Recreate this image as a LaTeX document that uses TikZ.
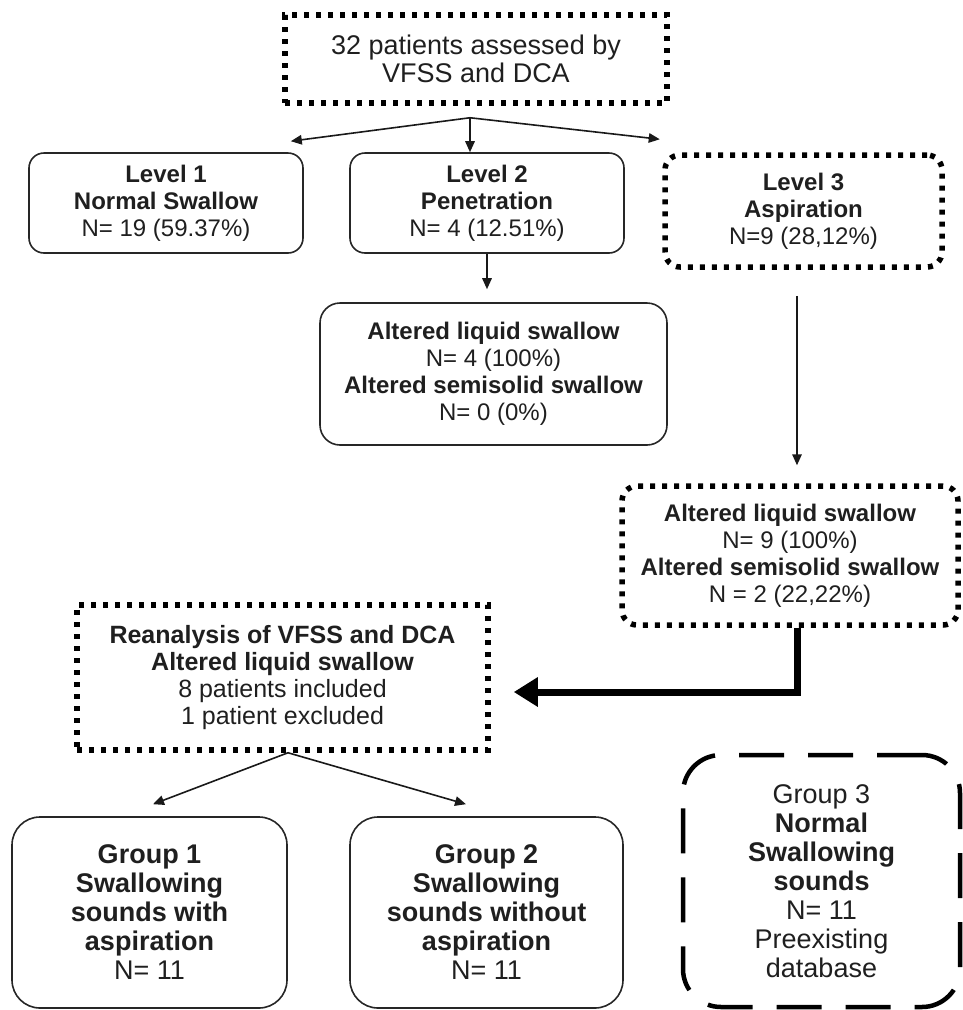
\documentclass[tikz,border=0pt]{standalone}
\usepackage{fontspec}
\setmainfont{Liberation Sans}
\usetikzlibrary{arrows.meta,calc}
\begin{document}
\begin{tikzpicture}[x=1pt,y=-1pt,
  every node/.style={inner sep=0pt, align=center, text=black!88},
  solidbox/.style={draw=black!85, line width=1.6pt, rounded corners=#1},
  solidbox/.default=15pt,
  dotbox/.style={draw=black, line width=5.5pt, dash pattern=on 5pt off 7pt, rounded corners=#1},
  dotbox/.default=0pt,
  dashbox/.style={draw=black, line width=4.5pt, dash pattern=on 45pt off 24pt, rounded corners=38pt},
  fa/.style={font=\fontsize{24}{27}\selectfont},
  fb/.style={font=\fontsize{27}{28}\selectfont},
  fr/.style={font=\fontsize{25}{27}\selectfont},
  fg/.style={font=\fontsize{27}{29}\selectfont},
  arr/.style={draw=black!90, line width=1.6pt, -{Triangle[length=11pt,width=9.5pt]}},
  bigarr/.style={draw=black, line width=7pt, -{Triangle[length=24pt,width=28pt]}},
]
\useasboundingbox (0,0) rectangle (962,1010);

\node[dotbox, fb, minimum width=382pt, minimum height=88pt] (top) at (476,59)
  {32 patients assessed by\\VFSS and DCA};

\node[solidbox, fa, minimum width=274pt, minimum height=100pt] (L1) at (166,203)
  {\textbf{Level 1}\\\textbf{Normal Swallow}\\N= 19 (59.37\%)};
\node[solidbox, fa, minimum width=274pt, minimum height=100pt] (L2) at (487,203)
  {\textbf{Level 2}\\\textbf{Penetration}\\N= 4 (12.51\%)};
\node[dotbox=15pt, fa, minimum width=277pt, minimum height=112pt] (L3) at (803.5,211)
  {\textbf{Level 3}\\\textbf{Aspiration}\\N=9 (28,12\%)};

\node[solidbox=20pt, fa, minimum width=347pt, minimum height=142pt] (A1) at (493.5,374)
  {\textbf{Altered liquid swallow}\\N= 4 (100\%)\\\textbf{Altered semisolid swallow}\\N= 0 (0\%)};
\node[dotbox=15pt, fa, minimum width=336pt, minimum height=139pt] (A2) at (790,555.5)
  {\textbf{Altered liquid swallow}\\N= 9 (100\%)\\\textbf{Altered semisolid swallow}\\N = 2 (22,22\%)};

\node[dotbox, fr, minimum width=411pt, minimum height=145pt] (R) at (282.5,677.5)
  {\textbf{Reanalysis of VFSS and DCA}\\\textbf{Altered liquid swallow}\\8 patients included\\1 patient excluded};

\node[solidbox=28pt, fg, minimum width=275pt, minimum height=191pt] (G1) at (149.5,912.5)
  {\textbf{Group 1}\\\textbf{Swallowing}\\\textbf{sounds with}\\\textbf{aspiration}\\N= 11};
\node[solidbox=28pt, fg, minimum width=273pt, minimum height=191pt] (G2) at (486.5,912.5)
  {\textbf{Group 2}\\\textbf{Swallowing}\\\textbf{sounds without}\\\textbf{aspiration}\\N= 11};
\node[dashbox, fg, minimum width=277pt, minimum height=252pt] (G3) at (821.5,881)
  {Group 3\\\textbf{Normal}\\\textbf{Swallowing}\\\textbf{sounds}\\N= 11\\Preexisting\\database};

% top fan-out
\coordinate (o1) at ([xshift=-6pt,yshift=-12pt]top.south);
\coordinate (t1) at ([xshift=-13pt,yshift=11pt]L1.north east);
\coordinate (t3) at ([xshift=-2.5pt,yshift=13pt]L3.north west);
\draw[arr] (o1) -- (t1);
\draw[arr] (o1) -- (o1 |- L2.north);
\draw[arr] (o1) -- (t3);

% level 2 -> altered 1
\draw[arr, shorten >=13pt] (L2.south) -- (L2.south |- A1.north);
% level 3 -> altered 2
\draw[arr, shorten <=26pt, shorten >=18pt] ([xshift=-6.5pt]L3.south) -- ([xshift=-6.5pt]L3.south |- A2.north);
% thick arrow
\draw[bigarr] ([xshift=7pt]A2.south) |- ([xshift=23pt,yshift=-14.5pt]R.east);

% reanalysis fan-out
\coordinate (o2) at ([xshift=5.5pt]R.south);
\coordinate (t4) at ([xshift=3.5pt,yshift=12pt]G1.north);
\coordinate (t5) at ([xshift=-20.5pt,yshift=12pt]G2.north);
\draw[arr] (o2) -- (t4);
\draw[arr] (o2) -- (t5);
\end{tikzpicture}
\end{document}
